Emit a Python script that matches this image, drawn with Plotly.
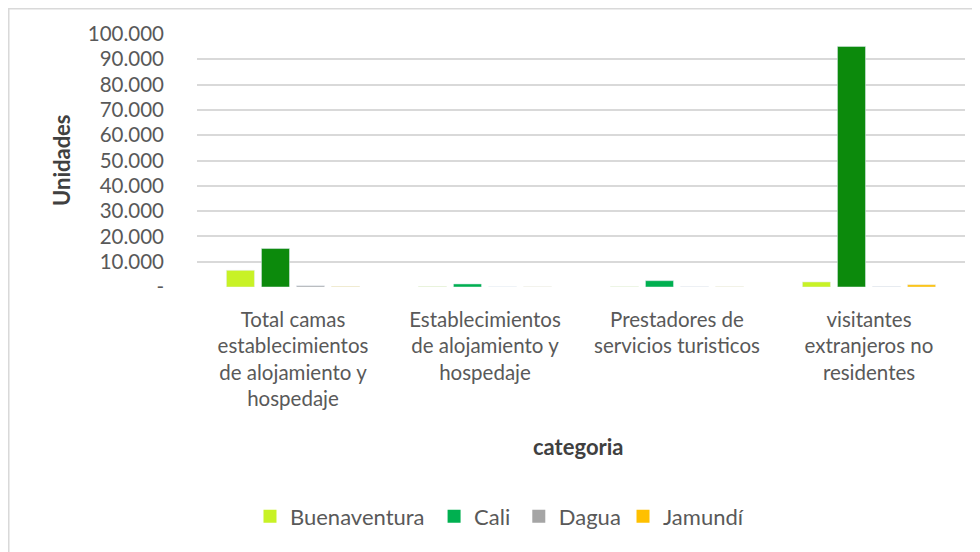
import plotly.graph_objects as go

categorias = ['Total camas<br>establecimientos<br>de alojamiento y<br>hospedaje',
              'Establecimientos<br>de alojamiento y<br>hospedaje',
              'Prestadores de<br>servicios turisticos',
              'visitantes<br>extranjeros no<br>residentes']
buenaventura = [6600, 120, 80, 2000]
cali = [15200, 1200, 2500, 95100]
dagua = [500, 30, 50, 100]
jamundi = [150, 40, 60, 900]
tick_vals = [0, 10000, 20000, 30000, 40000, 50000, 60000, 70000, 80000, 90000, 100000]
tick_text = ['-', '10.000', '20.000', '30.000', '40.000', '50.000',
             '60.000', '70.000', '80.000', '90.000', '100.000']

FONT = 'Lato'
GRIS = '#595959'
colores = {'Buenaventura': '#C8F226', 'Cali': '#00B050', 'Dagua': '#A5A5A5', 'Jamundí': '#FFC000'}

fig = go.Figure()
fig.add_bar(x=categorias, y=buenaventura, name='Buenaventura', marker_color=colores['Buenaventura'],
            showlegend=False)
fig.add_bar(x=categorias, y=cali, name='Cali', showlegend=False,
            marker_color=['#0C8A0C', '#00B050', '#00B050', '#0C8A0C'])
fig.add_bar(x=categorias, y=dagua, name='Dagua', marker_color=colores['Dagua'], showlegend=False)
fig.add_bar(x=categorias, y=jamundi, name='Jamundí', marker_color=colores['Jamundí'], showlegend=False)

# entradas de leyenda en un eje oculto para no alterar el agrupamiento
leyendas = ['legend', 'legend2', 'legend3', 'legend4']
pos_x = [0.069, 0.3087, 0.419, 0.5547]
for (nombre, color), ley in zip(colores.items(), leyendas):
    fig.add_scatter(x=[categorias[0]], y=[None], name=nombre, mode='markers',
                    marker=dict(symbol='square', size=13, color=color),
                    xaxis='x2', yaxis='y2', legend=ley)

ley_cfg = {}
for ley, px_ in zip(leyendas, pos_x):
    ley_cfg[ley] = dict(orientation='h', x=px_, xanchor='left', y=-0.907, yanchor='middle',
                        font=dict(size=22, color=GRIS), itemwidth=30, bgcolor='rgba(0,0,0,0)')

fig.update_layout(
    barmode='group', bargap=0.27, bargroupgap=0.2,
    width=980, height=552,
    margin=dict(l=189, r=23, t=26, b=273, autoexpand=False),
    paper_bgcolor='white', plot_bgcolor='white',
    font=dict(family=FONT, size=20.5, color=GRIS),
    showlegend=True,
    xaxis=dict(showgrid=False, showline=False, ticks='', automargin=False,
               tickfont=dict(size=20.5, color=GRIS), ticklabelstandoff=18),
    yaxis=dict(range=[0, 100000], tickvals=tick_vals, ticktext=tick_text, automargin=False,
               gridcolor='#D9D9D9', gridwidth=1.5, zeroline=False, showline=False,
               tickfont=dict(size=20.5, color=GRIS), ticklabelstandoff=32),
    xaxis2=dict(overlaying='x', visible=False),
    yaxis2=dict(overlaying='y', visible=False, range=[0, 1]),
    **ley_cfg,
)
fig.add_shape(type='rect', xref='paper', yref='paper', x0=-0.2451, x1=1.2, y0=-1.3, y1=1.0998,
              line=dict(color='#D9D9D9', width=1.5))
fig.add_annotation(text='<b>Unidades</b>', xref='paper', yref='paper', x=-0.1758, y=0.502,
                   xanchor='center', yanchor='middle',
                   textangle=-90, showarrow=False, font=dict(size=22, color='#404040'))
fig.add_annotation(text='<b>categoria</b>', xref='paper', yref='paper', x=0.496, y=-0.632,
                   xanchor='center', yanchor='middle',
                   showarrow=False, font=dict(size=22, color='#404040'))

fig.write_html('out.html')
